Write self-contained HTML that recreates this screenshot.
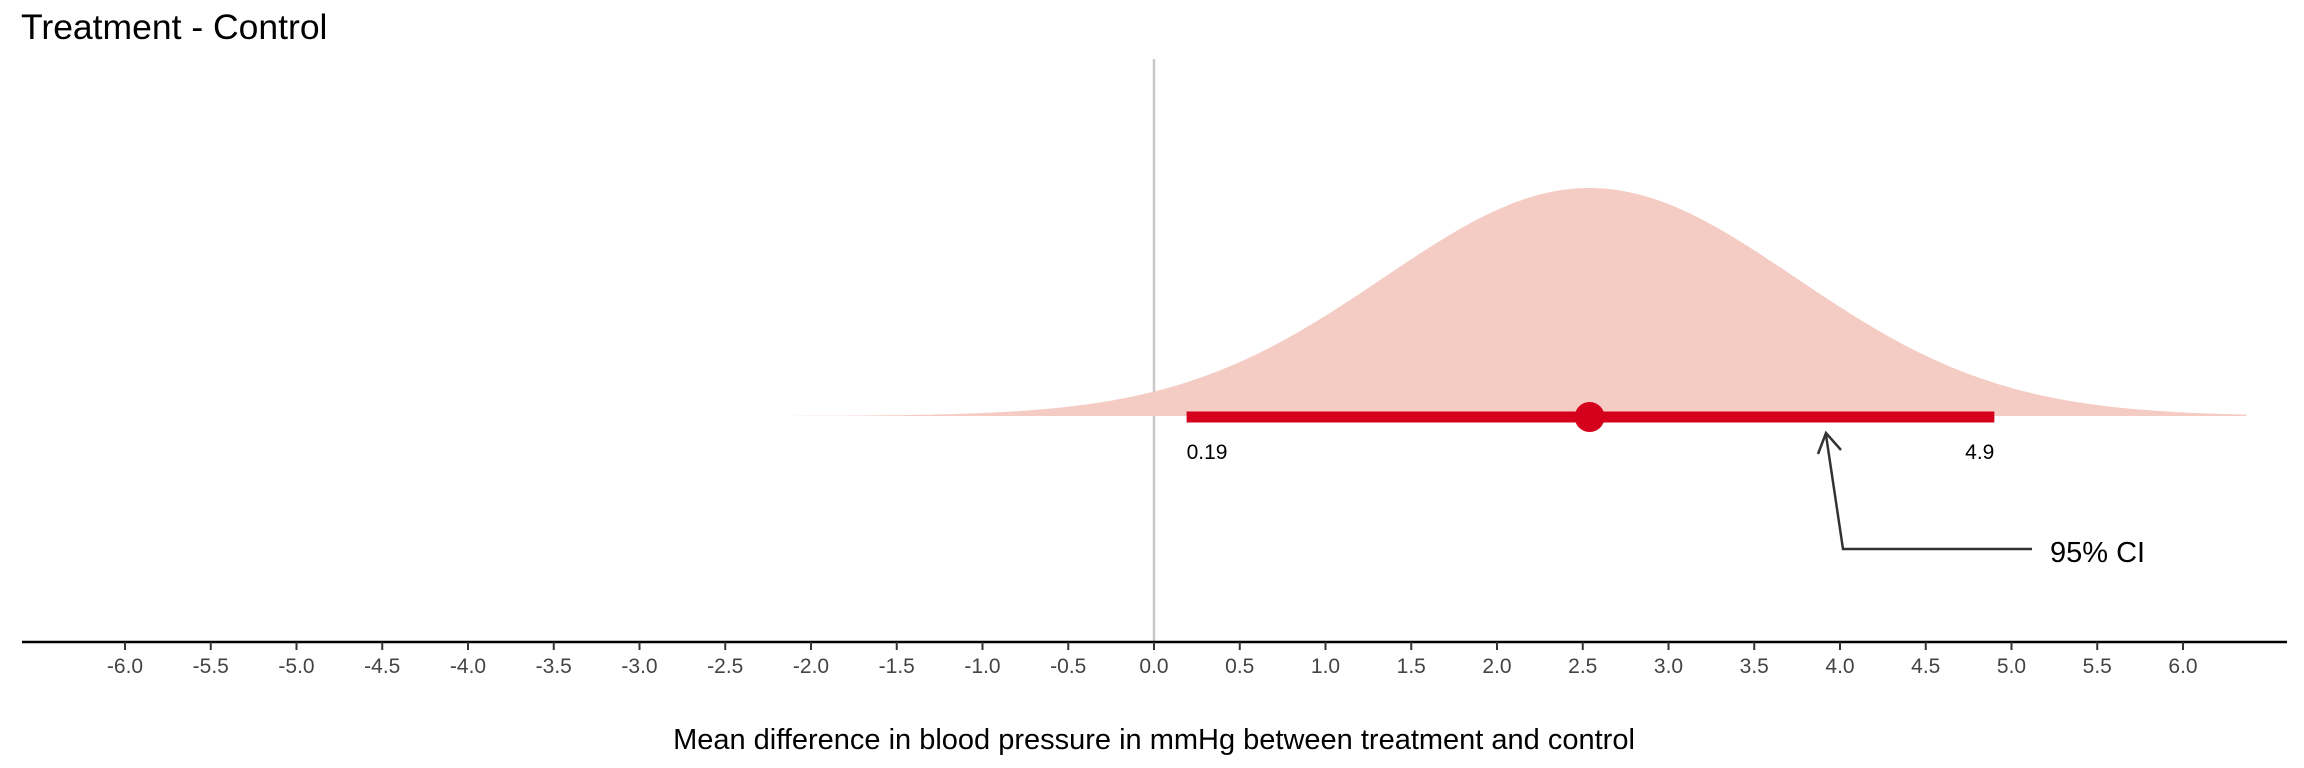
<!DOCTYPE html>
<html><head><meta charset="utf-8"><style>
html,body{margin:0;padding:0;background:#fff}
svg{display:block;font-family:"Liberation Sans",sans-serif}
</style></head><body>
<svg id="chart" width="2304" height="768" viewBox="0 0 2304 768" xmlns="http://www.w3.org/2000/svg">
<text x="21" y="39" font-size="35.5" fill="#000">Treatment - Control</text>
<line x1="1154" y1="59" x2="1154" y2="642" stroke="#c8c8c8" stroke-width="2.5"/>
<path id="density" fill="#f4ccc3"/>
<g id="axis"></g>
<line id="ci" stroke="#d5001c" stroke-width="11"/>
<circle id="dot" r="15" fill="#d5001c"/>
<text id="lo" font-size="21" fill="#000"></text>
<text id="hi" font-size="21" fill="#000" text-anchor="end"></text>
<g stroke="#333" stroke-width="2.5" fill="none">
<polyline points="2032,549 1843,549 1826,435"/>
<polyline points="1818,454 1826,433 1841,450"/>
</g>
<text x="2050" y="562" font-size="29" fill="#000">95% CI</text>
<text x="1154" y="749" font-size="29" fill="#000" text-anchor="middle">Mean difference in blood pressure in mmHg between treatment and control</text>
</svg>
<script>
const ticks=[-6,-5.5,-5,-4.5,-4,-3.5,-3,-2.5,-2,-1.5,-1,-0.5,0,0.5,1,1.5,2,2.5,3,3.5,4,4.5,5,5.5,6];
const estimate=[2.54];
const ciLower=[0.19];
const ciUpper=[4.9];
const densityRange=[-2.1,6.37];
const x=v=>1154+171.5*v;
const base=416, peakH=228;
const ns="http://www.w3.org/2000/svg";
const ax=document.getElementById('axis');
let l=document.createElementNS(ns,'line');


l.setAttribute('x1',22);l.setAttribute('x2',2287);l.setAttribute('y1',642);l.setAttribute('y2',642);
l.setAttribute('stroke','#000');l.setAttribute('stroke-width','2.5');ax.appendChild(l);
ticks.forEach(t=>{
 const tl=document.createElementNS(ns,'line');
 
 
 tl.setAttribute('x1',x(t));tl.setAttribute('x2',x(t));tl.setAttribute('y1',642);tl.setAttribute('y2',650);
 tl.setAttribute('stroke','#333');tl.setAttribute('stroke-width','2');ax.appendChild(tl);
 const tx=document.createElementNS(ns,'text');
 
 
 tx.setAttribute('x',x(t));tx.setAttribute('y',673);tx.setAttribute('font-size','21');
 tx.setAttribute('fill','#444');tx.setAttribute('text-anchor','middle');
 tx.textContent=t.toFixed(1);ax.appendChild(tx);
});
const m=estimate[0], se=(ciUpper[0]-ciLower[0])/3.92;
let d='M'+x(densityRange[0])+','+base;
for(let i=0;i<=300;i++){const v=densityRange[0]+(densityRange[1]-densityRange[0])*i/300;
 const y=base-peakH*Math.exp(-0.5*((v-m)/se)**2);d+=' L'+x(v).toFixed(1)+','+y.toFixed(1);}
d+=' L'+x(densityRange[1])+','+base+' Z';
document.getElementById('density').setAttribute('d',d);
const ci=document.getElementById('ci');
ci.setAttribute('x1',x(ciLower[0]));ci.setAttribute('x2',x(ciUpper[0]));ci.setAttribute('y1',417);ci.setAttribute('y2',417);
const dot=document.getElementById('dot');dot.setAttribute('cx',x(m));dot.setAttribute('cy',417);
const lo=document.getElementById('lo');lo.setAttribute('x',x(ciLower[0]));lo.setAttribute('y',459);lo.textContent=String(ciLower[0]);
const hi=document.getElementById('hi');hi.setAttribute('x',x(ciUpper[0]));hi.setAttribute('y',459);hi.textContent=String(ciUpper[0]);
</script>
</body></html>
